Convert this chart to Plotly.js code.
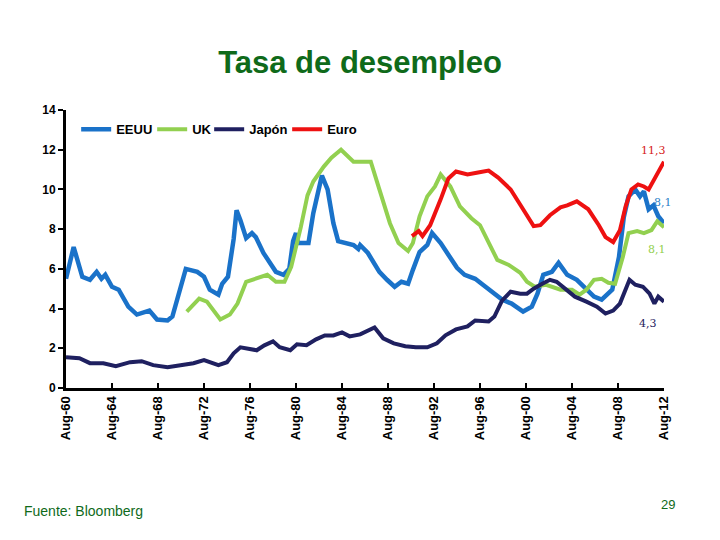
<!DOCTYPE html>
<html>
<head>
<meta charset="utf-8">
<script src="https://cdn.plot.ly/plotly-3.0.1.min.js"></script>
<style>html,body{margin:0;padding:0;background:#fff;}#chart{width:720px;height:540px;}</style>
</head>
<body>
<div id="chart"></div>
<script>
// ---- data ----
const eeuuDates = ["1960-08","1961-04","1962-01","1962-09","1963-04","1963-09","1964-01","1964-08","1965-03","1966-01","1966-10","1967-08","1967-11","1968-07","1969-06","1969-11","1970-06","1971-01","1972-01","1972-08","1973-02","1973-11","1974-03","1974-09","1975-03","1975-06","1975-10","1976-04","1976-10","1977-02","1977-10","1978-07","1978-11","1979-07","1980-01","1980-05","1980-08","1980-10","1981-04","1981-09","1982-02","1982-11","1983-05","1983-11","1984-04","1985-01","1985-08","1986-01","1986-03","1986-11","1987-11","1988-07","1989-03","1989-10","1990-05","1990-10","1991-05","1992-01","1992-06","1993-03","1994-01","1994-08","1995-04","1996-03","1996-11","1997-10","1998-07","1999-05","2000-05","2001-02","2001-08","2002-02","2002-11","2003-06","2004-03","2005-01","2005-11","2006-07","2007-03","2008-02","2008-09","2009-02","2009-07","2010-02","2010-07","2010-11","2011-04","2011-09","2012-02","2012-08"];
const eeuuValues = [5.5,7.1,5.6,5.45,5.85,5.5,5.7,5.1,4.95,4.1,3.7,3.85,3.9,3.45,3.4,3.6,4.9,6.0,5.85,5.6,4.95,4.7,5.25,5.6,7.5,8.95,8.45,7.55,7.8,7.6,6.8,6.1,5.85,5.7,6.0,7.4,7.8,7.3,7.3,7.3,8.8,10.7,10.0,8.3,7.4,7.3,7.2,7.0,7.2,6.8,5.85,5.45,5.1,5.35,5.25,5.95,6.85,7.2,7.8,7.3,6.6,6.05,5.7,5.5,5.2,4.75,4.45,4.25,3.85,4.1,4.75,5.7,5.85,6.3,5.7,5.45,4.95,4.6,4.45,4.95,6.6,8.6,9.65,10.0,9.65,9.9,9.0,9.2,8.65,8.3];

const ukDates = ["1971-02","1972-03","1972-11","1974-01","1974-11","1975-07","1976-04","1977-03","1978-02","1978-11","1979-08","1980-03","1981-01","1981-08","1982-02","1983-01","1983-09","1984-07","1985-01","1985-08","1986-03","1987-02","1987-11","1988-10","1989-07","1990-05","1990-10","1991-05","1992-01","1992-09","1993-03","1994-01","1994-11","1995-11","1996-08","1997-05","1998-02","1999-02","2000-02","2000-09","2001-05","2002-05","2003-08","2004-08","2005-04","2005-11","2006-07","2007-03","2007-10","2008-05","2009-01","2009-07","2010-04","2010-11","2011-07","2012-01","2012-08"];
const ukValues = [3.85,4.5,4.35,3.45,3.7,4.25,5.35,5.5,5.7,5.35,5.35,6.1,8.1,9.7,10.4,11.15,11.6,12.0,11.75,11.4,11.4,11.4,10.0,8.3,7.3,6.9,7.3,8.65,9.65,10.15,10.75,10.15,9.15,8.55,8.2,7.3,6.45,6.2,5.8,5.35,5.1,5.2,4.95,4.95,4.7,4.95,5.45,5.5,5.3,5.25,6.6,7.8,7.9,7.8,7.95,8.4,8.1];

const japonDates = ["1960-08","1961-10","1962-09","1963-11","1964-12","1966-03","1967-03","1968-03","1969-06","1970-07","1971-09","1972-08","1973-02","1973-11","1974-08","1975-03","1975-10","1976-07","1977-03","1977-11","1978-08","1979-03","1980-02","1980-09","1981-07","1982-05","1983-02","1983-11","1984-08","1985-04","1986-03","1987-06","1988-03","1989-02","1990-02","1991-01","1992-01","1992-11","1993-08","1994-07","1995-07","1996-03","1997-05","1997-11","1998-07","1999-04","2000-02","2000-09","2001-04","2002-01","2002-09","2003-04","2004-01","2004-11","2005-11","2006-10","2007-07","2008-03","2008-10","2009-04","2009-08","2010-02","2010-10","2011-05","2011-10","2012-02","2012-08"];
const japonValues = [1.55,1.5,1.25,1.25,1.1,1.3,1.35,1.15,1.05,1.15,1.25,1.4,1.3,1.15,1.3,1.75,2.05,1.95,1.9,2.15,2.35,2.05,1.9,2.2,2.15,2.45,2.65,2.65,2.8,2.6,2.7,3.05,2.5,2.25,2.1,2.05,2.05,2.25,2.65,2.95,3.1,3.4,3.35,3.6,4.4,4.85,4.75,4.75,5.0,5.25,5.45,5.35,5.0,4.6,4.35,4.1,3.75,3.9,4.25,4.95,5.45,5.2,5.1,4.75,4.25,4.6,4.35];

const euroDates = ["1990-09","1991-04","1991-08","1992-04","1993-03","1993-11","1994-07","1995-07","1996-06","1997-05","1998-03","1999-04","2000-05","2001-04","2001-11","2002-09","2003-08","2004-03","2005-01","2006-01","2006-12","2007-07","2008-03","2008-10","2009-04","2009-10","2010-05","2010-11","2011-04","2011-10","2012-08"];
const euroValues = [7.65,7.9,7.65,8.2,9.5,10.55,10.9,10.75,10.85,10.95,10.6,10.0,9.0,8.15,8.2,8.7,9.1,9.2,9.4,9.0,8.2,7.6,7.35,7.95,9.15,10.0,10.25,10.15,10.0,10.5,11.4];

const seriesNames = ["EEUU","UK","Japón","Euro"];
const tickDates = ["1960-08","1964-08","1968-08","1972-08","1976-08","1980-08","1984-08","1988-08","1992-08","1996-08","2000-08","2004-08","2008-08","2012-08"];
const tickLabels = ["Aug-60","Aug-64","Aug-68","Aug-72","Aug-76","Aug-80","Aug-84","Aug-88","Aug-92","Aug-96","Aug-00","Aug-04","Aug-08","Aug-12"];
const endLabels = ["11,3","8,1","8,1","4,3"];
const endLabelDates = ["2011-09-15","2012-07-01","2012-01-01","2011-03-01"];
const endLabelValues = [11.98,9.36,6.99,3.26];

// ---- styling ----
const colors = ["#1a72c9","#92d050","#1f2060","#ee1111"];
const FONT = "Liberation Sans, Arial, sans-serif";
const GREEN = "#0f6a1a";

const allX = [eeuuDates, ukDates, japonDates, euroDates];
const allY = [eeuuValues, ukValues, japonValues, euroValues];
const widths = [4.5, 4, 4, 4];
const legendWidths = [31, 12, 33, 40];

const traces = seriesNames.map((n, i) => ({
  type: "scatter", mode: "lines", name: n,
  x: allX[i], y: allY[i],
  line: {color: colors[i], width: widths[i]},
  legendwidth: legendWidths[i]
}));

const labelColors = ["#d62020","#2e7fc8","#92d050","#1f2060"];
const annotations = endLabels.map((t, i) => ({
  x: endLabelDates[i], y: endLabelValues[i], xref: "x", yref: "y",
  text: t, showarrow: false,
  font: {family: "DejaVu Serif, Liberation Serif, serif", size: 11, color: labelColors[i]}
}));
annotations.push({
  xref: "paper", yref: "paper", x: -0.074, y: -0.444, xanchor: "left", yanchor: "middle",
  text: "Fuente: Bloomberg", showarrow: false,
  font: {family: FONT, size: 14, color: GREEN}
});
annotations.push({
  xref: "paper", yref: "paper", x: 1.007, y: -0.418, xanchor: "center", yanchor: "middle",
  text: "29", showarrow: false,
  font: {family: FONT, size: 13, color: GREEN}
});

const layout = {
  width: 720, height: 540,
  paper_bgcolor: "#ffffff", plot_bgcolor: "#ffffff",
  margin: {l: 66, r: 56, t: 110, b: 152, pad: 0},
  title: {
    text: "Tasa de desempleo", x: 0.5, xref: "container", xanchor: "center",
    y: 0.885, yref: "container", yanchor: "middle",
    font: {family: FONT, size: 31, color: GREEN, weight: "bold"}
  },
  showlegend: true,
  legend: {
    orientation: "h", x: 0.017, xanchor: "left", y: 0.931, yanchor: "middle",
    font: {family: FONT, size: 13, color: "#000", weight: "bold"},
    bgcolor: "rgba(0,0,0,0)", itemwidth: 30, tracegroupgap: 0
  },
  xaxis: {
    type: "date", range: ["1960-08-01","2012-08-01"],
    tickmode: "array", tickvals: tickDates, ticktext: tickLabels,
    tickangle: -90, ticks: "inside", ticklen: 5, tickwidth: 2, tickcolor: "#000",
    showline: true, linecolor: "#000", linewidth: 3,
    showgrid: false, zeroline: false,
    tickfont: {family: FONT, size: 13, color: "#000", weight: "bold"}
  },
  yaxis: {
    range: [0, 14], tickmode: "linear", tick0: 0, dtick: 2,
    ticks: "outside", ticklen: 5, tickwidth: 2, tickcolor: "#000",
    showline: true, linecolor: "#000", linewidth: 3,
    showgrid: false, zeroline: false,
    tickfont: {family: FONT, size: 12, color: "#000", weight: "bold"}
  },
  annotations: annotations
};

Plotly.newPlot("chart", traces, layout, {displayModeBar: false, staticPlot: true});
</script>
</body>
</html>
